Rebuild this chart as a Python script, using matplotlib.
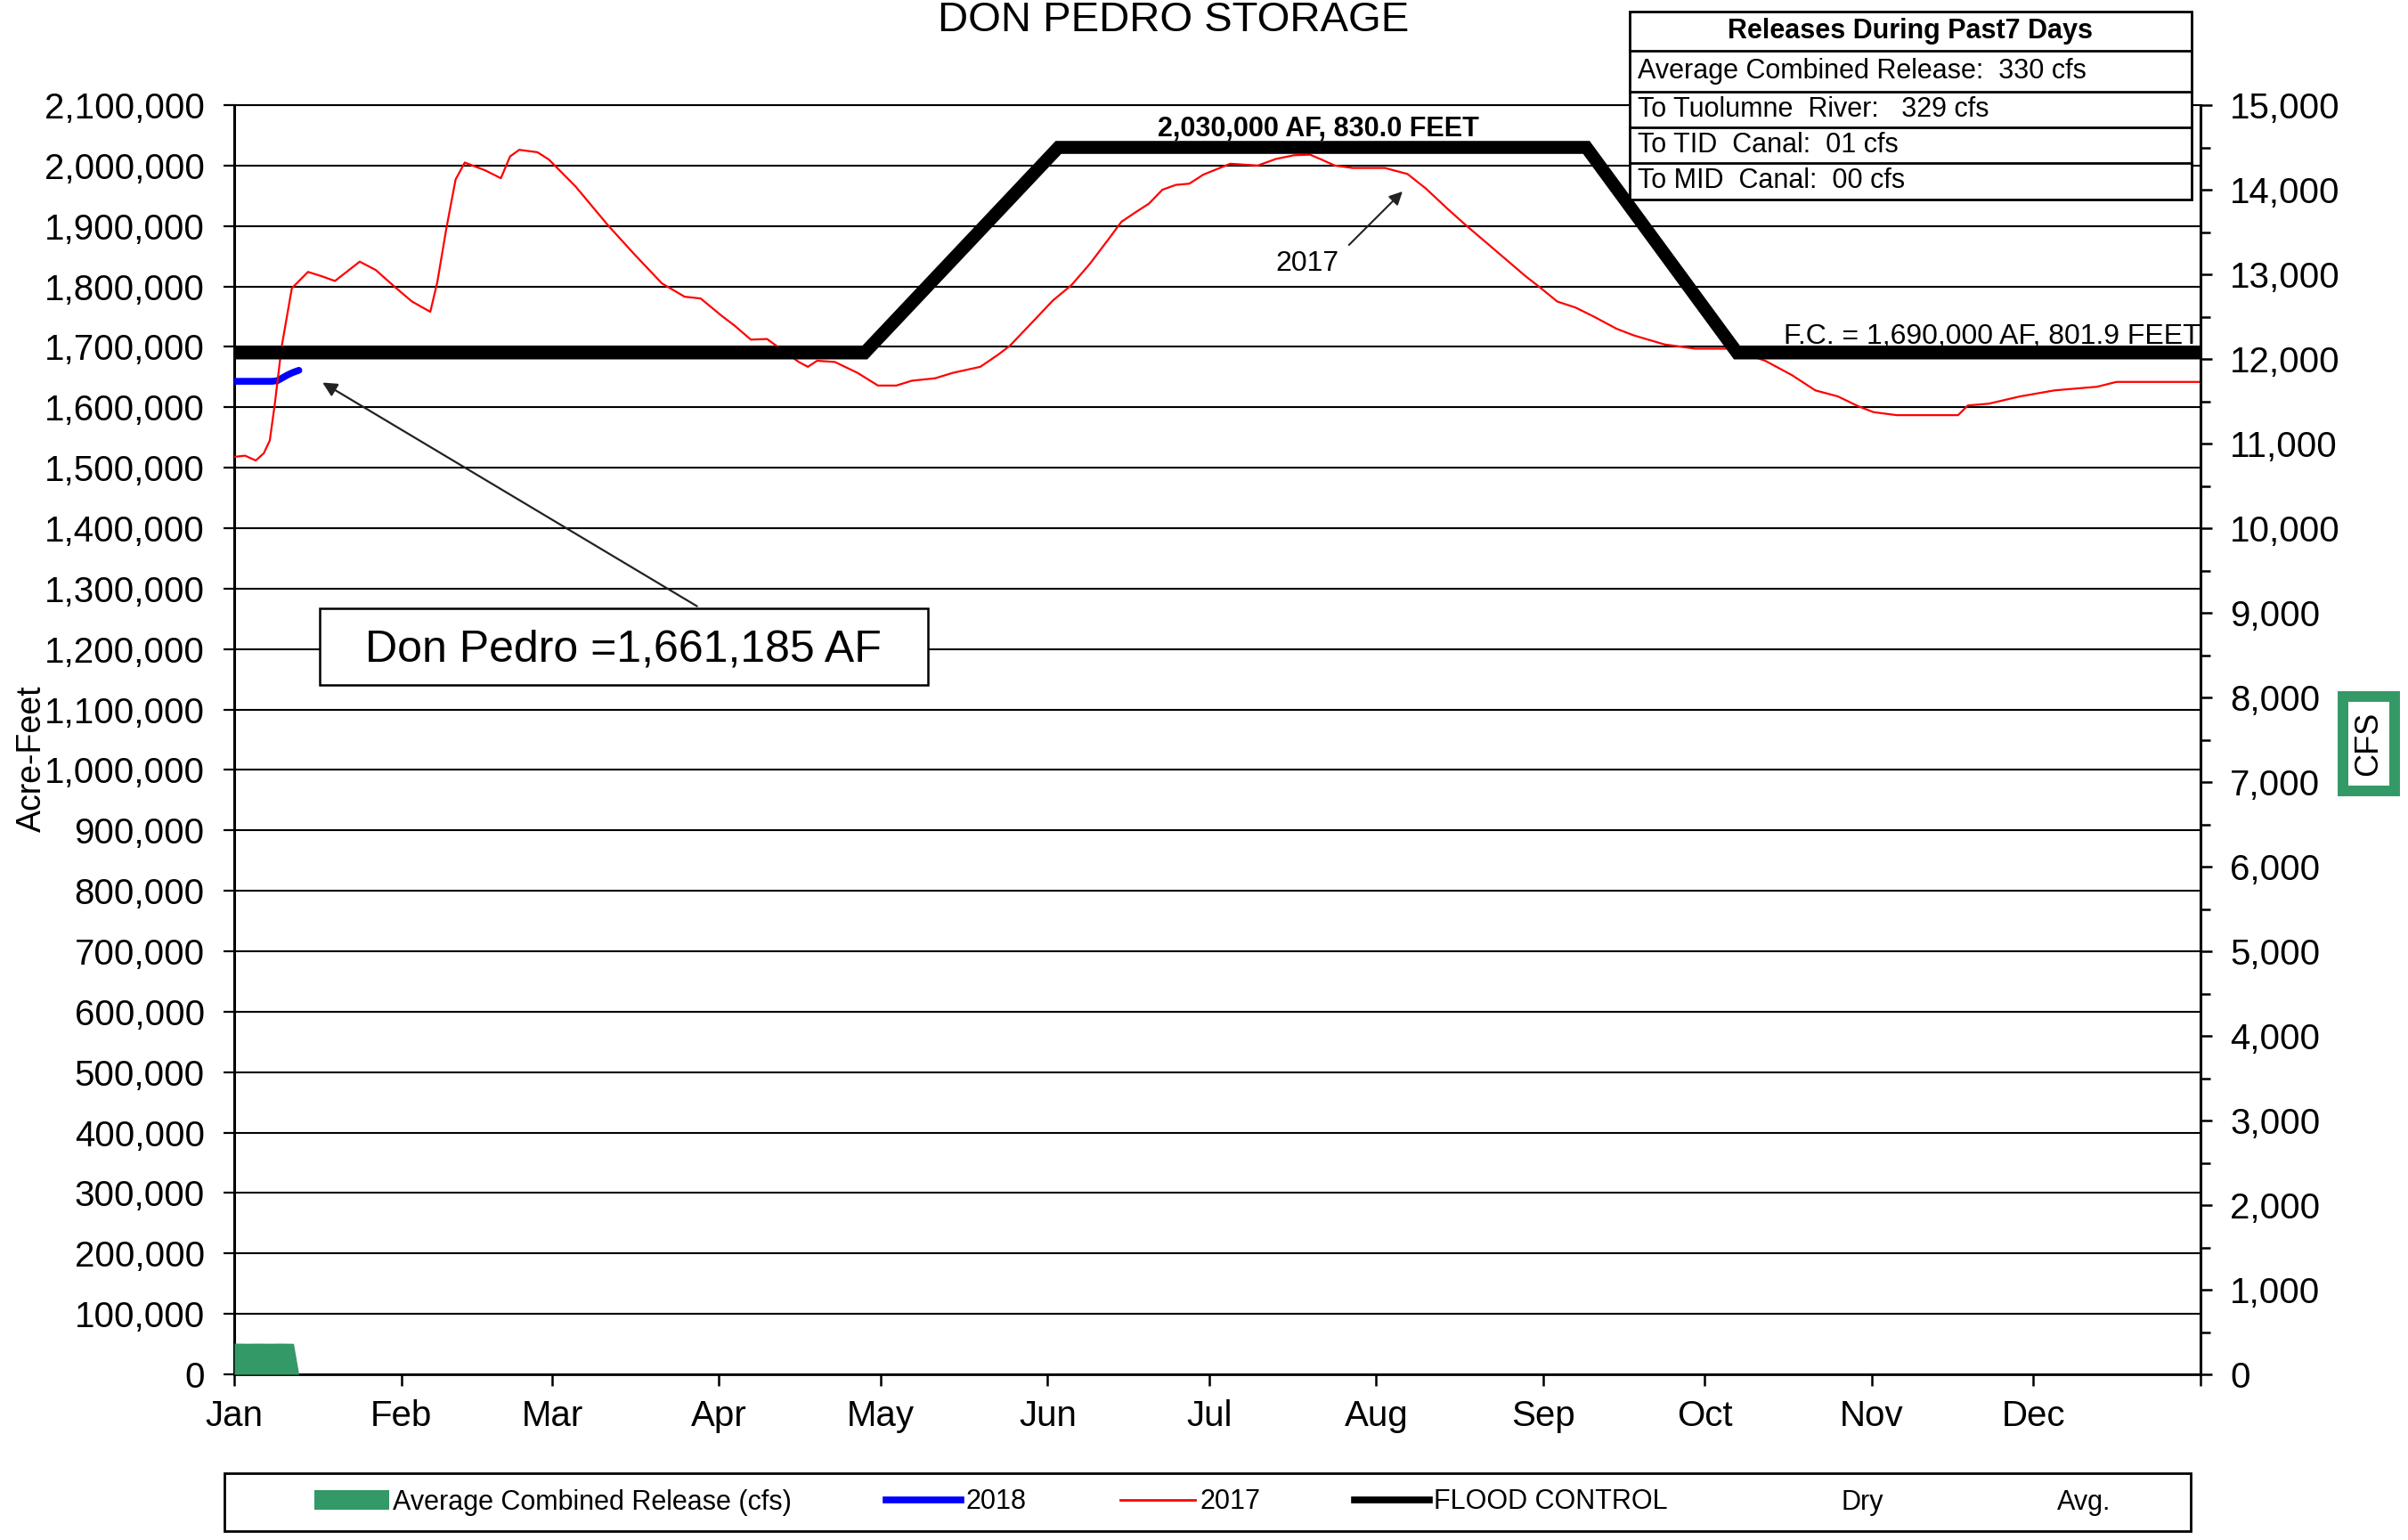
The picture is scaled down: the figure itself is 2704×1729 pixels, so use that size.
import matplotlib
matplotlib.use("Agg")
import matplotlib.pyplot as plt
from matplotlib.lines import Line2D
from matplotlib.patches import Patch, Rectangle

plt.rcParams['font.family'] = ['Liberation Sans', 'DejaVu Sans']

GREEN = '#339966'

# x axis: day of year, labelled at month starts
months = ['Jan', 'Feb', 'Mar', 'Apr', 'May', 'Jun',
          'Jul', 'Aug', 'Sep', 'Oct', 'Nov', 'Dec']
month_start = [0, 31, 59, 90, 120, 151, 181, 212, 243, 273, 304, 334]

# 2017 storage (acre-feet)
day_2017 = [0, 2, 4, 5.5, 6.6, 7.5, 8.8, 10.7, 13.7, 16.2, 18.7, 23.3, 26.3,
            29.7, 33, 36.4, 37.7, 39.4, 41.1, 42.8, 46.6, 49.5, 51.2, 52.9,
            56.3, 58.4, 63.4, 69.3, 74.4, 79.4, 83.6, 86.6, 90.4, 92.9, 95.9,
            98.9, 101.4, 104.8, 106.5, 108.2, 111.5, 115.7, 119.5, 122.9,
            125.8, 130.1, 133.4, 138.5, 141.8, 144, 147, 152, 155.4, 158.8,
            162.2, 164.7, 167.2, 169.8, 172.3, 174.8, 177.3, 179.9, 184.9,
            190, 193.4, 196.7, 199.7, 201.8, 204.3, 207.6, 213.6, 217.8,
            221.2, 225.4, 228.8, 233.8, 239.7, 242.3, 245.6, 249, 252.4,
            256.6, 259.8, 265.5, 271.2, 277.7, 284.2, 289.2, 293.5, 297.7,
            301.4, 304.3, 308.6, 320, 321.8, 325.7, 331.5, 337.9, 345.8,
            349.4, 365]
af_2017 = [1518000, 1520000, 1512000, 1524000, 1545000, 1603000, 1700000,
           1797000, 1824000, 1817000, 1809000, 1841000, 1827000, 1800000,
           1775000, 1758000, 1807000, 1897000, 1977000, 2005000, 1992000,
           1979000, 2015000, 2026000, 2022000, 2010000, 1965000, 1902000,
           1852000, 1805000, 1783000, 1780000, 1752000, 1735000, 1712000,
           1713000, 1697000, 1675000, 1667000, 1677000, 1675000, 1657000,
           1636000, 1636000, 1644000, 1648000, 1657000, 1667000, 1687000,
           1702000, 1730000, 1777000, 1802000, 1837000, 1877000, 1907000,
           1922000, 1937000, 1960000, 1968000, 1970000, 1985000, 2003000,
           2000000, 2011000, 2017000, 2018000, 2010000, 2000000, 1996000,
           1996000, 1986000, 1962000, 1927000, 1900000, 1862000, 1817000,
           1799000, 1775000, 1765000, 1750000, 1730000, 1719000, 1704000,
           1697000, 1697000, 1677000, 1653000, 1628000, 1618000, 1602000,
           1592000, 1587000, 1587000, 1603000, 1606000, 1618000, 1628000,
           1634000, 1642000, 1642000]

# 2018 storage so far
day_2018 = [0, 1, 2, 3, 4, 5, 6, 7, 8, 9, 10, 11, 12]
af_2018 = [1643000, 1643000, 1643000, 1643000, 1643000, 1643000, 1643000,
           1643000, 1644000, 1649000, 1654000, 1658000, 1661185]

# flood control envelope
day_fc = [0, 117, 153, 251, 279, 365]
af_fc = [1690000, 1690000, 2030000, 2030000, 1690000, 1690000]

# average combined release (cfs), right axis
day_rel = [0, 1, 2, 3, 4, 5, 6, 7, 8, 9, 10, 11, 12]
cfs_rel = [368, 368, 367, 367, 368, 368, 367, 367, 368, 368, 367, 366, 0]

storage_ticks = list(range(0, 2_100_001, 100_000))
cfs_ticks = list(range(0, 15_001, 1000))
cfs_minor = list(range(500, 15_000, 1000))

table_rows = ['Average Combined Release:  330 cfs',
              'To Tuolumne  River:   329 cfs',
              'To TID  Canal:  01 cfs',
              'To MID  Canal:  00 cfs']

W, H = 2704, 1729
fig = plt.figure(figsize=(W / 100, H / 100), dpi=100)
ax = fig.add_axes([263 / W, 1 - 1543 / H, 2208 / W, 1425 / H])
ax2 = ax.twinx()

# --- main (acre-feet) axis
ax.set_xlim(0, 365)
ax.set_ylim(0, 2_100_000)
ax.set_yticks(storage_ticks)
ax.set_yticklabels([f"{v:,}" for v in storage_ticks])
ax.set_xticks(month_start + [365])
ax.set_xticklabels(months + [''])
ax.yaxis.grid(True, color='black', lw=1.5)
ax.set_axisbelow(True)
ax.spines['right'].set_visible(False)
ax.spines['top'].set_linewidth(1.5)
ax.spines['left'].set_linewidth(2.2)
ax.spines['bottom'].set_linewidth(2.0)
ax.tick_params(axis='y', labelsize=29, length=9, width=1.6, pad=15)
ax.tick_params(axis='x', labelsize=29, length=9, width=1.8, pad=11)

ax.plot(day_2018, af_2018, color='blue', lw=5.5, solid_capstyle='round', zorder=3)
ax.plot(day_2017, af_2017, color='red', lw=1.6, zorder=4)
ax.plot(day_fc, af_fc, color='black', lw=10.5, solid_joinstyle='miter', zorder=5)

ax.text(201.2, 2_048_000, '2,030,000 AF, 830.0 FEET', ha='center', va='baseline',
        fontsize=22, fontweight='bold', zorder=6)
ax.text(365, 1_705_000, 'F.C. = 1,690,000 AF, 801.9 FEET', ha='right', va='baseline',
        fontsize=23, zorder=6)
ax.text(199.2, 1_838_000, '2017', ha='center', va='center', fontsize=23, zorder=6)
ax.annotate('', xy=(217.2, 1_960_000), xytext=(206.6, 1_865_700),
            arrowprops=dict(arrowstyle='-|>', color='#222222', lw=1.5,
                            mutation_scale=22))

# current storage callout
ax.annotate('', xy=(16.0, 1_643_000), xytext=(86.3, 1_268_800),
            arrowprops=dict(arrowstyle='-|>', color='#222222', lw=1.6,
                            mutation_scale=24), zorder=6)
ax.add_patch(Rectangle((15.9, 1_140_000), 112.9, 127_000, facecolor='white',
                       edgecolor='black', lw=1.8, zorder=7))
ax.text(72.3, 1_179_000, 'Don Pedro =1,661,185 AF', ha='center', va='baseline',
        fontsize=36, zorder=8)

# --- cfs axis
ax2.fill_between(day_rel, cfs_rel, color=GREEN, lw=0)
ax2.set_ylim(0, 15000)
ax2.set_yticks(cfs_ticks)
ax2.set_yticklabels([f"{v:,}" for v in cfs_ticks])
ax2.set_yticks(cfs_minor, minor=True)
for s in ['top', 'left', 'bottom']:
    ax2.spines[s].set_visible(False)
ax2.spines['right'].set_linewidth(2.2)
ax2.tick_params(axis='y', which='major', labelsize=29, length=9, width=1.8, pad=15)
ax2.tick_params(axis='y', which='minor', length=8, width=1.8)

# --- titles and side labels
fig.text(1318 / W, 1 - 35 / H, 'DON PEDRO STORAGE', ha='center', va='baseline',
         fontsize=34)
fig.text(36 / W, 1 - 852 / H, 'Acre-Feet', rotation=90, ha='center', va='center',
         fontsize=27)
fig.add_artist(Rectangle((2631 / W, 1 - 888 / H), 58 / W, 106 / H,
                         transform=fig.transFigure, facecolor='white',
                         edgecolor=GREEN, lw=8.6))
fig.text(2660 / W, 1 - 835 / H, 'CFS', rotation=90, ha='center', va='center',
         fontsize=26)

# --- releases table
tab = fig.add_axes([1830 / W, 1 - 224 / H, 631 / W, 211.3 / H])
tab.set_xlim(0, 1)
tab.set_ylim(0, 1)
tab.axis('off')
tab.add_patch(Rectangle((0, 0), 1, 1, facecolor='white', edgecolor='black',
                        lw=2, clip_on=False))
row_edges = [1.0, 0.7918, 0.5726, 0.3848, 0.1955, 0.0]
for yb in row_edges[1:-1]:
    tab.plot([0, 1], [yb, yb], color='black', lw=2, clip_on=False)
tab.text(0.5, (row_edges[0] + row_edges[1]) / 2, 'Releases During Past7 Days',
         ha='center', va='center', fontsize=22, fontweight='bold')
for i, row in enumerate(table_rows):
    yc = (row_edges[i + 1] + row_edges[i + 2]) / 2
    tab.text(0.014, yc, row, ha='left', va='center', fontsize=22)

# --- legend
fig.add_artist(Rectangle((252 / W, 1 - 1719 / H), 2208 / W, 65 / H,
                         transform=fig.transFigure, facecolor='none',
                         edgecolor='black', lw=2))
handles = [Patch(facecolor=GREEN, edgecolor='none'),
           Line2D([], [], color='blue', lw=5.5),
           Line2D([], [], color='red', lw=2),
           Line2D([], [], color='black', lw=5.5),
           Line2D([], [], color='none'),
           Line2D([], [], color='none')]
labels = ['Average Combined Release (cfs)', '2018', '2017', 'FLOOD CONTROL',
          'Dry', 'Avg.']
fig.legend(handles, labels, loc='center', bbox_to_anchor=(1361.5 / W, 1 - 1686.5 / H),
           ncol=6, frameon=False, fontsize=22, handlelength=2.75,
           handletextpad=0.15, columnspacing=3.48)

fig.savefig('out.png', dpi=100)
